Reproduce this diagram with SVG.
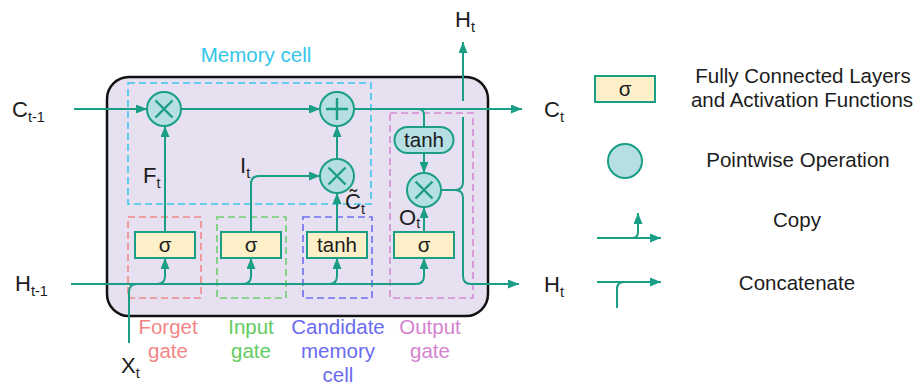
<svg xmlns="http://www.w3.org/2000/svg" width="920" height="385" viewBox="0 0 920 385">
<style>
text{font-family:"Liberation Sans",Arial,sans-serif;font-size:20.5px;fill:#1c1c1c}
.c{text-anchor:middle}
.lb{font-size:22px}
.sub{font-size:14.5px}
.op{fill:#b6dfe4;stroke:#1a9e85;stroke-width:2}
.fc{fill:#fdf0c8;stroke:#1a9e85;stroke-width:2}
.sym{stroke:#1a9e85;stroke-width:2.4;fill:none}
.ln{stroke:#1a9e85;stroke-width:2;fill:none}
.arr{marker-end:url(#ah)}
.dash{fill:none;stroke-width:1.6;stroke-dasharray:7 4}
</style>
<defs>
<marker id="ah" markerUnits="userSpaceOnUse" markerWidth="11" markerHeight="9" refX="11" refY="4.5" orient="auto">
<path d="M0,0 L11,4.5 L0,9 z" fill="#1a9e85"/>
</marker>
</defs>
<rect width="920" height="385" fill="#ffffff"/>

<g id="cell">
<rect x="107" y="77" width="381" height="239" rx="22" fill="#e6e0f0" stroke="#111" stroke-width="2.5"/>
</g>

<g id="memory-cell-box">
<rect class="dash" x="128" y="83" width="243" height="121" stroke="#3cc8ec"/>
<text class="c" x="256" y="62" style="fill:#33c6ea">Memory cell</text>
</g>
<g id="forget-gate-box">
<rect class="dash" x="128" y="217" width="73" height="81" stroke="#f08a8a"/>
<text class="c" x="168" y="334" style="fill:#f28686">Forget</text>
<text class="c" x="168" y="358" style="fill:#f28686">gate</text>
</g>
<g id="input-gate-box">
<rect class="dash" x="217" y="217" width="69" height="81" stroke="#6fcf6f"/>
<text class="c" x="251" y="334" style="fill:#62cc62">Input</text>
<text class="c" x="251" y="358" style="fill:#62cc62">gate</text>
</g>
<g id="candidate-box">
<rect class="dash" x="303" y="217" width="69" height="81" stroke="#6f6ff0"/>
<text class="c" x="338" y="334" style="fill:#6a6af0">Candidate</text>
<text class="c" x="338" y="358" style="fill:#6a6af0">memory</text>
<text class="c" x="338" y="382" style="fill:#6a6af0">cell</text>
</g>
<g id="output-gate-box">
<rect class="dash" x="390" y="113" width="83" height="185" stroke="#d68ad2"/>
<text class="c" x="430" y="334" style="fill:#d483cf">Output</text>
<text class="c" x="430" y="358" style="fill:#d483cf">gate</text>
</g>

<g id="connectors">
<path class="ln arr" d="M74,109 H147"/>
<path class="ln arr" d="M181,109 H320"/>
<path class="ln arr" d="M354,109 H522"/>
<path class="ln" d="M418,109 Q424,109 424,115 V127"/>
<path class="ln arr" d="M424,153 V173"/>
<path class="ln" d="M441,190 H455 Q463,190 463,182 V117"/>
<path class="ln arr" d="M463,101 V42"/>
<path class="ln arr" d="M455,190 Q463,190 463,198 V276 Q463,284 471,284 H519"/>
<path class="ln arr" d="M165,232 V126"/>
<path class="ln arr" d="M251,232 V184 Q251,176 259,176 H320"/>
<path class="ln arr" d="M337,232 V193"/>
<path class="ln arr" d="M337,159 V126"/>
<path class="ln arr" d="M424,232 V207"/>
<path class="ln arr" d="M71,284 H416 Q424,284 424,276 V258"/>
<path class="ln arr" d="M157,284 Q165,284 165,276 V258"/>
<path class="ln arr" d="M243,284 Q251,284 251,276 V258"/>
<path class="ln arr" d="M329,284 Q337,284 337,276 V258"/>
<path class="ln" d="M129,343 V292 Q129,284 137,284"/>
</g>

<g id="mul-forget">
<circle class="op" cx="164" cy="109" r="17"/>
<path class="sym" d="M155.5,100.5 L172.5,117.5 M172.5,100.5 L155.5,117.5"/>
</g>
<g id="add-cell">
<circle class="op" cx="337" cy="109" r="17"/>
<path class="sym" d="M326,109 H348 M337,98 V120"/>
</g>
<g id="mul-input">
<circle class="op" cx="337" cy="176" r="17"/>
<path class="sym" d="M328.5,167.5 L345.5,184.5 M345.5,167.5 L328.5,184.5"/>
</g>
<g id="mul-output">
<circle class="op" cx="424" cy="190" r="17"/>
<path class="sym" d="M415.5,181.5 L432.5,198.5 M432.5,181.5 L415.5,198.5"/>
</g>
<g id="tanh-output">
<rect class="op" x="394.5" y="127" width="59" height="26" rx="13"/>
<text class="c" x="424" y="147">tanh</text>
</g>

<g id="forget-sigma">
<rect class="fc" x="135" y="232" width="60" height="26"/>
<text class="c" x="165" y="252">σ</text>
</g>
<g id="input-sigma">
<rect class="fc" x="221" y="232" width="60" height="26"/>
<text class="c" x="251" y="252">σ</text>
</g>
<g id="candidate-tanh">
<rect class="fc" x="307" y="232" width="60" height="26"/>
<text class="c" x="337" y="252">tanh</text>
</g>
<g id="output-sigma">
<rect class="fc" x="394" y="232" width="60" height="26"/>
<text class="c" x="424" y="252">σ</text>
</g>

<g id="labels">
<text class="lb" x="12" y="117">C<tspan class="sub" dy="5">t-1</tspan></text>
<text class="lb" x="15" y="291">H<tspan class="sub" dy="5">t-1</tspan></text>
<text class="lb" x="121" y="373">X<tspan class="sub" dy="5">t</tspan></text>
<text class="lb" x="143" y="183">F<tspan class="sub" dy="5">t</tspan></text>
<text class="lb" x="240" y="173">I<tspan class="sub" dy="5">t</tspan></text>
<text class="lb" x="345" y="209">C̃<tspan class="sub" dy="5">t</tspan></text>
<text class="lb" x="399" y="225">O<tspan class="sub" dy="3">t</tspan></text>
<text class="lb" x="455" y="27">H<tspan class="sub" dy="5">t</tspan></text>
<text class="lb" x="544" y="117">C<tspan class="sub" dy="5">t</tspan></text>
<text class="lb" x="544" y="292">H<tspan class="sub" dy="5">t</tspan></text>
</g>

<g id="legend-fc">
<rect class="fc" x="595" y="76" width="60" height="26"/>
<text class="c" x="625" y="96">σ</text>
<text class="c" x="803" y="83">Fully Connected Layers</text>
<text class="c" x="802" y="107">and Activation Functions</text>
</g>
<g id="legend-op">
<circle class="op" cx="625" cy="161" r="17"/>
<text class="c" x="798" y="167">Pointwise Operation</text>
</g>
<g id="legend-copy">
<path class="ln arr" d="M597,238 H661"/>
<path class="ln arr" d="M632,238 Q638,238 638,232 V213"/>
<text class="c" x="797" y="227">Copy</text>
</g>
<g id="legend-concat">
<path class="ln arr" d="M597,282 H661"/>
<path class="ln" d="M617,308 V289 Q617,282 624,282"/>
<text class="c" x="797" y="290">Concatenate</text>
</g>
</svg>
